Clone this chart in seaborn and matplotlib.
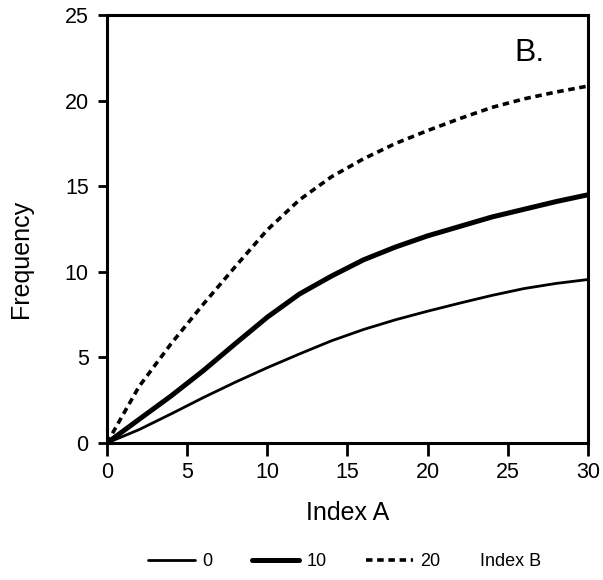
import matplotlib
matplotlib.use("Agg")
import matplotlib.pyplot as plt
import seaborn as sns
from matplotlib.lines import Line2D

# ---- data ----
index_a = [0, 2, 4, 6, 8, 10, 12, 14, 16, 18, 20, 22, 24, 26, 28, 30]
freq_b0 = [0, 0.78, 1.7, 2.65, 3.55, 4.4, 5.2, 5.97, 6.63, 7.2, 7.7, 8.17, 8.62, 9.02, 9.32, 9.55]
freq_b10 = [0, 1.38, 2.75, 4.22, 5.8, 7.35, 8.7, 9.75, 10.7, 11.45, 12.1, 12.65, 13.2, 13.65, 14.1, 14.5]
freq_b20 = [0, 3.3, 5.8, 8.1, 10.3, 12.45, 14.2, 15.55, 16.6, 17.5, 18.25, 18.95, 19.6, 20.1, 20.5, 20.85]
series_labels = ["0", "10", "20"]
legend_title = "Index B"
x_ticks = [0, 5, 10, 15, 20, 25, 30]
y_ticks = [0, 5, 10, 15, 20, 25]

sns.set_style("ticks")
plt.rcParams["font.family"] = ["Liberation Sans", "DejaVu Sans"]
plt.rcParams["text.color"] = "black"
plt.rcParams["axes.labelcolor"] = "black"

fig = plt.figure(figsize=(6.03, 5.80), dpi=100)
fig.subplots_adjust(left=0.1774, right=0.9751, top=0.9741, bottom=0.2362)
ax = fig.add_subplot(111)

dash = (0, (1.8, 1.3))
sns.lineplot(x=index_a, y=freq_b0, ax=ax, color="black", linewidth=2.0)
sns.lineplot(x=index_a, y=freq_b10, ax=ax, color="black", linewidth=3.6)
sns.lineplot(x=index_a, y=freq_b20, ax=ax, color="black", linewidth=2.6, linestyle=dash, dash_capstyle="butt")

ax.set_xlim(0, 30)
ax.set_ylim(0, 25)
ax.set_xticks(x_ticks)
ax.set_yticks(y_ticks)
for s in ax.spines.values():
    s.set_visible(True)
    s.set_linewidth(2.2)
    s.set_color("black")
ax.tick_params(axis="x", direction="out", length=9, width=2, pad=4.8, labelsize=15.5, colors="black")
ax.tick_params(axis="y", direction="out", length=6.7, width=2, pad=6.5, labelsize=15.5, colors="black")

ax.set_xlabel("Index A", fontsize=18, labelpad=12.6, color="black")
ax.set_ylabel("Frequency", fontsize=18, color="black")
ax.yaxis.set_label_coords(-0.154, 0.43)

ax.text(0.848, 0.893, "B.", transform=ax.transAxes, fontsize=23, ha="left", va="baseline", color="black")

handles = [
    Line2D([], [], color="black", linewidth=2.0),
    Line2D([], [], color="black", linewidth=3.6),
    Line2D([], [], color="black", linewidth=2.6, linestyle=dash),
]
fig.legend(handles, series_labels, loc="center left", bbox_to_anchor=(148 / 603, 1 - 562 / 580),
           ncol=3, frameon=False, fontsize=13, handlelength=2.6, handletextpad=0.4,
           columnspacing=2.2, borderpad=0, borderaxespad=0, labelcolor="black")
fig.text(480 / 603, 1 - 562 / 580, legend_title, fontsize=13, ha="left", va="center", color="black")

fig.savefig("out.png", dpi=100)
